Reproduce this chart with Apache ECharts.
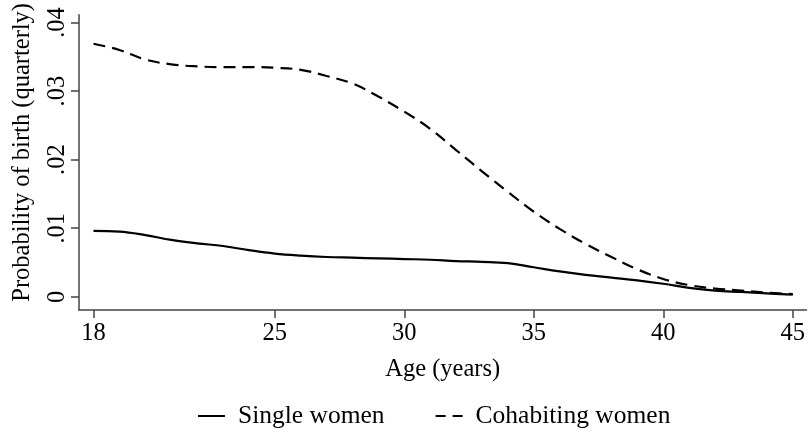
<!DOCTYPE html>
<html>
<head>
<meta charset="utf-8">
<script src="https://cdn.jsdelivr.net/npm/echarts@6/dist/echarts.min.js"></script>
<style>
html,body{margin:0;padding:0;background:#fff;}
#chart{width:808px;height:434px;}
</style>
</head>
<body>
<div id="chart"></div>
<script>
var ages = [18,19,20,21,22,23,24,25,26,27,28,29,30,31,32,33,34,35,36,37,38,39,40,41,42,43,44,45];
var singleWomen = [0.0096,0.0095,0.0090,0.0083,0.0078,0.0074,0.0068,0.0063,0.0060,0.0058,0.0057,0.0056,0.0055,0.0054,0.0052,0.0051,0.0049,0.0043,0.0037,0.0032,0.0028,0.0024,0.0019,0.0013,0.0009,0.0007,0.0005,0.0003];
var cohabitingWomen = [0.0369,0.0360,0.0346,0.0339,0.0336,0.0335,0.0335,0.0334,0.0331,0.0322,0.0311,0.0292,0.0270,0.0245,0.0214,0.0183,0.0153,0.0124,0.0099,0.0077,0.0058,0.0040,0.0026,0.0017,0.0012,0.0009,0.0006,0.0004];
var xTicks = [18,25,30,35,40,45];
var yTicks = [0,0.01,0.02,0.03,0.04];
var seriesNames = ['Single women','Cohabiting women'];

function pairs(xs, ys){ return xs.map(function(x,i){ return [x, ys[i]]; }); }

var FONT = 'Liberation Serif';
var chart = echarts.init(document.getElementById('chart'), null, {renderer:'canvas'});
chart.setOption({
  animation:false,
  backgroundColor:'#ffffff',
  textStyle:{fontFamily:FONT},
  grid:{left:79,right:1,top:8,bottom:124,containLabel:false},
  xAxis:{
    type:'value', min:17.44, max:45.53,
    name:'Age (years)', nameLocation:'middle', nameGap:47,
    nameTextStyle:{fontFamily:FONT,fontSize:24.5,color:'#000'},
    axisLine:{show:true,onZero:false,lineStyle:{color:'#444',width:1.5}},
    axisTick:{show:true,length:8,customValues:xTicks,lineStyle:{color:'#444',width:1.5}},
    axisLabel:{customValues:xTicks,fontFamily:FONT,fontSize:24.5,color:'#000',margin:11},
    splitLine:{show:false}
  },
  yAxis:{
    type:'value', min:-0.00193, max:0.04114,
    name:'Probability of birth (quarterly)', nameLocation:'middle', nameGap:44, nameRotate:90,
    nameTextStyle:{fontFamily:FONT,fontSize:24.5,color:'#000',padding:[0,0,0,20]},
    axisLine:{show:true,onZero:false,lineStyle:{color:'#444',width:1.5}},
    axisTick:{show:true,length:8,customValues:yTicks,lineStyle:{color:'#444',width:1.5}},
    axisLabel:{customValues:yTicks,rotate:90,fontFamily:FONT,fontSize:24.5,color:'#000',margin:9,
      formatter:function(v){ return v===0 ? '0' : String(+v.toFixed(2)).replace(/^0/,''); }},
    splitLine:{show:false}
  },
  legend:{
    left:193, top:398, itemWidth:27, itemHeight:2, itemGap:51,
    textStyle:{fontFamily:FONT,fontSize:25.5,color:'#000',padding:[0,0,0,8]},
    data:[
      {name:seriesNames[0], icon:'path://M0,0h27v2h-27z', itemStyle:{color:'#000'}},
      {name:seriesNames[1], icon:'path://M0,0h10v2h-10z M17,0h10v2h-10z', itemStyle:{color:'#000'}}
    ]
  },
  series:[
    {name:seriesNames[0], type:'line', data:pairs(ages,singleWomen), smooth:0.4, symbol:'none',
      lineStyle:{color:'#000',width:2.2,type:'solid'}, itemStyle:{color:'#000'}},
    {name:seriesNames[1], type:'line', data:pairs(ages,cohabitingWomen), smooth:0.4, symbol:'none',
      lineStyle:{color:'#000',width:2.2,type:[12,7]}, itemStyle:{color:'#000'}}
  ]
});
</script>
</body>
</html>
